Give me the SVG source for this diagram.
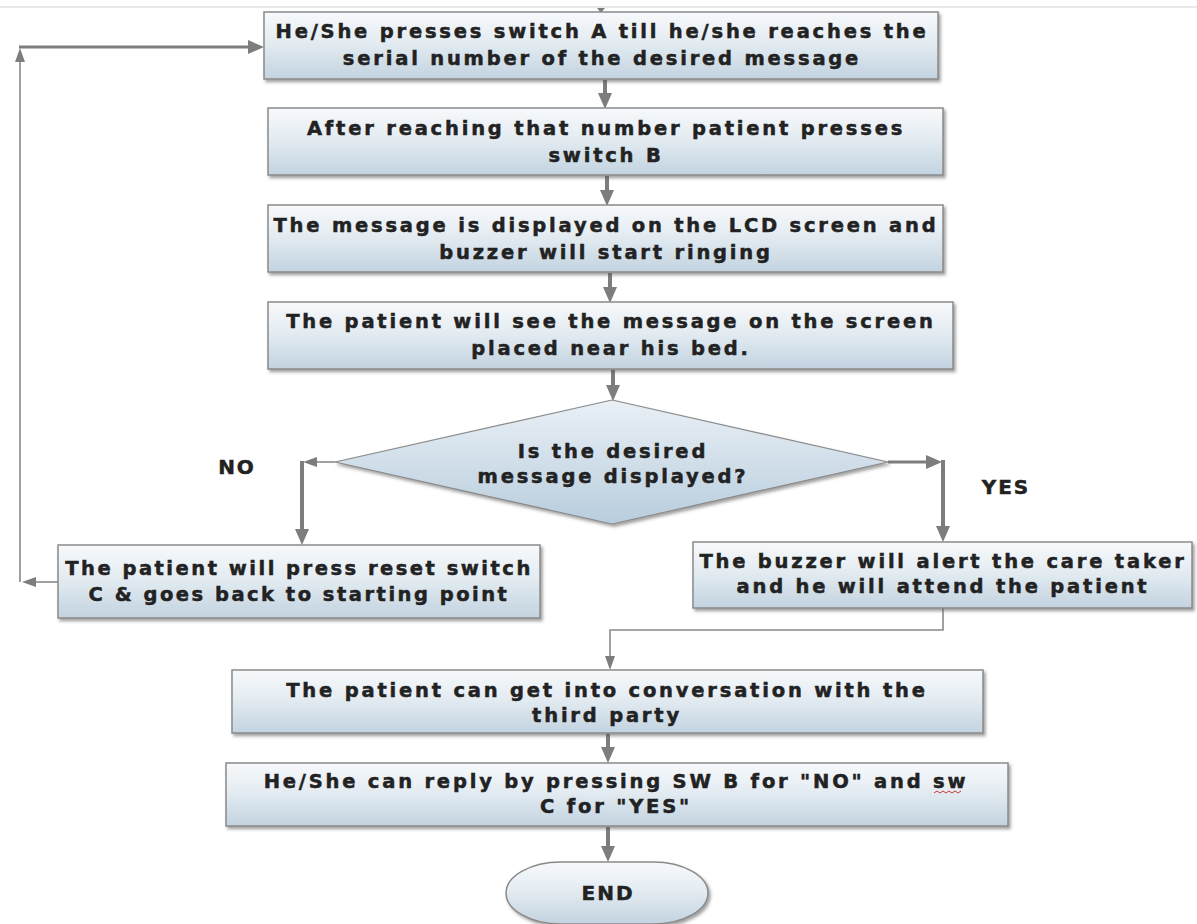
<svg xmlns="http://www.w3.org/2000/svg" width="1197" height="924" viewBox="0 0 1197 924">
<defs>
<linearGradient id="gBox" x1="0" y1="0" x2="0" y2="1">
<stop offset="0" stop-color="#f7f9fb"/>
<stop offset="0.45" stop-color="#e4ecf2"/>
<stop offset="1" stop-color="#c2d3e0"/>
</linearGradient>
<linearGradient id="gDia" x1="0" y1="0" x2="0" y2="1">
<stop offset="0" stop-color="#e9f0f6"/>
<stop offset="1" stop-color="#b9cddd"/>
</linearGradient>
<filter id="sh" x="-5%" y="-10%" width="110%" height="130%">
<feDropShadow dx="2" dy="2.5" stdDeviation="1.5" flood-color="#555" flood-opacity="0.55"/>
</filter>
<marker id="ah" markerUnits="userSpaceOnUse" markerWidth="16" markerHeight="14" viewBox="0 0 16 14" refX="1" refY="7" orient="auto">
<path d="M0,0 L16,7 L0,14 z" fill="#7d7d7d"/>
</marker>
<marker id="as" markerUnits="userSpaceOnUse" markerWidth="14" markerHeight="10" viewBox="0 0 14 10" refX="1" refY="5" orient="auto">
<path d="M0,0 L14,5 L0,10 z" fill="#7d7d7d"/>
</marker>
</defs>
<style>
.box{fill:url(#gBox);stroke:#8a8a8a;stroke-width:1.5;filter:url(#sh)}
.dia{fill:url(#gDia);stroke:#8a8a8a;stroke-width:1.2;filter:url(#sh)}
.t{font-family:"DejaVu Sans","Liberation Sans",sans-serif;font-weight:bold;font-size:19.5px;letter-spacing:2.8px;fill:#222;stroke:#222;stroke-width:0.5px;text-anchor:middle}
.lbl{font-family:"DejaVu Sans","Liberation Sans",sans-serif;font-weight:bold;font-size:20px;letter-spacing:2px;fill:#222;stroke:#222;stroke-width:0.5px;text-anchor:middle}
.thick{stroke:#7d7d7d;stroke-width:4;fill:none;marker-end:url(#ah)}
.mid{stroke:#7d7d7d;stroke-width:3;fill:none;marker-end:url(#ah)}
.thin{stroke:#8a8a8a;stroke-width:1.6;fill:none;marker-end:url(#as)}
</style>
<rect width="1197" height="924" fill="#ffffff"/>
<line x1="0" y1="7" x2="1197" y2="7" stroke="#d4d4d4" stroke-width="1.2"/>
<g id="connectors">
<path d="M597,8 L605,8 L601,13 z" fill="#7d7d7d"/>
<line class="thick" x1="605" y1="80" x2="605" y2="94"/>
<line class="thick" x1="607" y1="176" x2="607" y2="191"/>
<line class="thick" x1="610" y1="273" x2="610" y2="288"/>
<line class="thick" x1="613" y1="370" x2="613" y2="386"/>
<line class="thin" x1="335" y1="462" x2="316" y2="462"/>
<line class="thick" x1="302" y1="461" x2="302" y2="530"/>
<line class="mid" x1="888" y1="462" x2="927" y2="462"/>
<line class="thick" x1="943" y1="460" x2="943" y2="527"/>
<polyline class="thin" points="943,608 943,630 610,630 610,657"/>
<line class="thick" x1="608" y1="734" x2="608" y2="748"/>
<line class="thick" x1="608" y1="827" x2="608" y2="847"/>
<line class="thin" x1="58" y1="582" x2="35" y2="582"/>
<line class="thin" x1="20" y1="582" x2="20" y2="61" stroke-width="2"/>
<line class="mid" x1="19" y1="47" x2="249" y2="47"/>
</g>
<g id="n1">
<rect class="box" x="264" y="12" width="674" height="67"/>
<text class="t" x="602" y="38">He/She presses switch A till he/she reaches the</text>
<text class="t" x="602" y="65">serial number of the desired message</text>
</g>
<g id="n2">
<rect class="box" x="268" y="108" width="675" height="67"/>
<text class="t" x="606" y="135">After reaching that number patient presses</text>
<text class="t" x="606" y="162">switch B</text>
</g>
<g id="n3">
<rect class="box" x="268" y="205" width="675" height="67"/>
<text class="t" x="606" y="232">The message is displayed on the LCD screen and</text>
<text class="t" x="606" y="259">buzzer will start ringing</text>
</g>
<g id="n4">
<rect class="box" x="268" y="302" width="685" height="67"/>
<text class="t" x="611" y="328">The patient will see the message on the screen</text>
<text class="t" x="611" y="355">placed near his bed.</text>
</g>
<g id="decision">
<polygon class="dia" points="612,400 888,462 612,524 335,462"/>
<text class="t" x="613" y="458">Is the desired</text>
<text class="t" x="613" y="483">message displayed?</text>
</g>
<g id="labels">
<text class="lbl" x="237" y="474">NO</text>
<text class="lbl" x="1006" y="494">YES</text>
</g>
<g id="n5">
<rect class="box" x="58" y="545" width="482" height="73"/>
<text class="t" x="299" y="575" style="letter-spacing:2.5px">The patient will press reset switch</text>
<text class="t" x="299" y="601" style="letter-spacing:2.5px">C &amp; goes back to starting point</text>
</g>
<g id="n6">
<rect class="box" x="693" y="542" width="499" height="66"/>
<text class="t" x="943" y="568">The buzzer will alert the care taker</text>
<text class="t" x="943" y="593">and he will attend the patient</text>
</g>
<g id="n7">
<rect class="box" x="232" y="670" width="751" height="63"/>
<text class="t" x="607" y="697">The patient can get into conversation with the</text>
<text class="t" x="607" y="722">third party</text>
</g>
<g id="n8">
<rect class="box" x="226" y="763" width="782" height="63"/>
<text class="t" x="616" y="788">He/She can reply by pressing SW B for "NO" and sw</text>
<text class="t" x="616" y="813">C for "YES"</text>
<path d="M934,793 l3,-2 l3,2 l3,-2 l3,2 l3,-2 l3,2 l3,-2 l3,2 l3,-2" fill="none" stroke="#d23a3a" stroke-width="1"/>
</g>
<g id="end">
<rect class="box" x="506" y="862" width="202" height="62" rx="55" ry="31"/>
<text class="lbl" x="608" y="900">END</text>
</g>
</svg>
